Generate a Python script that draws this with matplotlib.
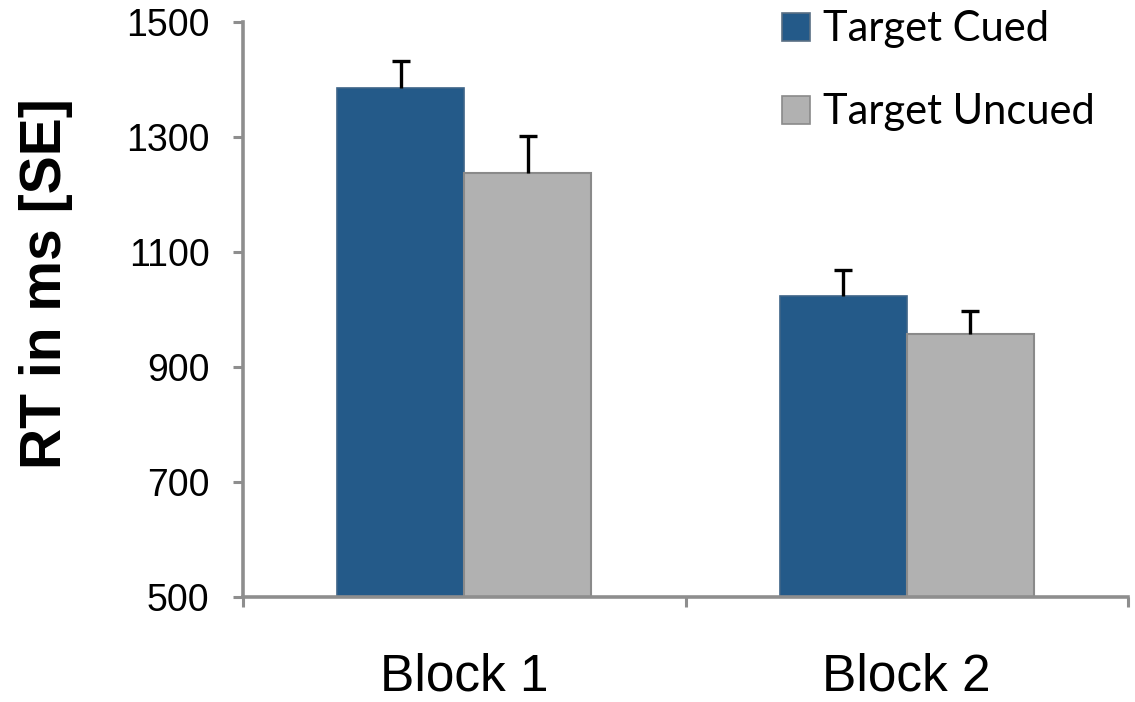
import matplotlib
matplotlib.use("Agg")
import matplotlib.pyplot as plt
import numpy as np
from matplotlib.patches import Patch

blocks = ["Block 1", "Block 2"]
series = ["Target Cued", "Target Uncued"]
cued_rt = [1385, 1023]
cued_se = [47, 46]
uncued_rt = [1237, 957]
uncued_se = [65, 40]
yticks = [500, 700, 900, 1100, 1300, 1500]

blue = "#245a89"
grey = "#b1b1b1"
axis_grey = "#8e8e8e"

fig = plt.figure(figsize=(11.35, 7.02), dpi=100)
ax = fig.add_axes([243 / 1135, 1 - 597 / 702, 885 / 1135, 575 / 702])

x = np.arange(len(blocks))
w = 0.287
ax.bar(x - w / 2, np.array(cued_rt) - 500, w, bottom=500, color=blue,
       edgecolor="#3d6488", linewidth=1.2, zorder=2)
ax.bar(x + w / 2, np.array(uncued_rt) - 500, w, bottom=500, color=grey,
       edgecolor="#8a8a8a", linewidth=1.5, zorder=2)

# upper-only error bars: hide the lower caps
for xs, vals, errs in [(x - w / 2, cued_rt, cued_se), (x + w / 2, uncued_rt, uncued_se)]:
    _, caps, _ = ax.errorbar(xs, vals, yerr=[np.zeros(len(errs)), errs], fmt="none",
                             ecolor="black", elinewidth=2.4, capsize=6.2, capthick=2.4,
                             zorder=3)
    caps[0].set_visible(False)

ax.set_ylim(500, 1500)
ax.set_xlim(-0.5, 1.5)
ax.set_yticks(yticks)
ax.set_yticklabels([str(t) for t in yticks], fontsize=27, family="Liberation Sans")
ax.set_xticks(x)
ax.set_xticklabels(blocks, fontsize=37, family="Liberation Sans")
ax.set_xticks([-0.5, 0.5, 1.5], minor=True)
ax.tick_params(axis="x", which="major", length=0, pad=40)
ax.tick_params(axis="x", which="minor", length=7, width=2.2, color=axis_grey, direction="out")
ax.tick_params(axis="y", length=7, width=2.2, color=axis_grey, direction="out", pad=17)

for s in ["top", "right"]:
    ax.spines[s].set_visible(False)
for s in ["left", "bottom"]:
    ax.spines[s].set_color(axis_grey)
    ax.spines[s].set_linewidth(2.6)

ax.set_ylabel("RT in ms [SE]", fontsize=41, fontweight="bold", family="Liberation Sans")
ax.yaxis.set_label_coords(-0.192, 0.545)

handles = [Patch(facecolor=blue, edgecolor="#5a6f84", linewidth=1.2),
           Patch(facecolor=grey, edgecolor="#8a8a8a", linewidth=1.2)]
fig.legend(handles, series, loc="upper left", bbox_to_anchor=(774 / 1135, 1 - 2 / 702),
           frameon=False, prop={"family": "Lato", "size": 30},
           handlelength=0.67, handleheight=0.67, handletextpad=0.3,
           labelspacing=1.08, borderaxespad=0, borderpad=0.2)

fig.savefig("out.png", dpi=100)
